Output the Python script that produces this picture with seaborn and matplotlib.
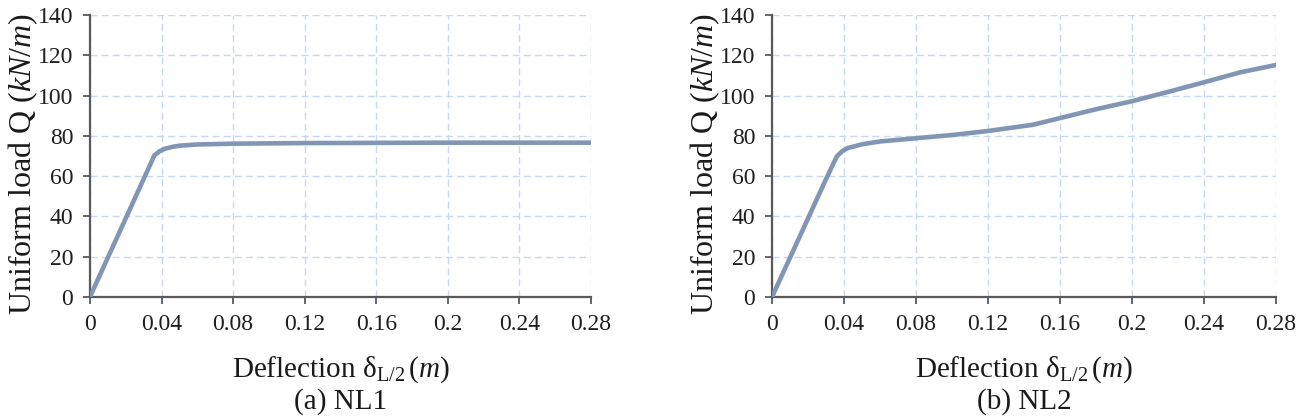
import numpy as np
import matplotlib
matplotlib.use("Agg")
import matplotlib.pyplot as plt
from matplotlib.ticker import FuncFormatter, MultipleLocator
import pandas as pd
import seaborn as sns

sns.set_theme(style="white")
plt.rcParams['font.family'] = ['Liberation Serif', 'DejaVu Serif']
plt.rcParams['mathtext.fontset'] = 'custom'
plt.rcParams['mathtext.rm'] = 'Liberation Serif'
plt.rcParams['mathtext.it'] = 'Liberation Serif:italic'

# load-deflection curves
nl1_defl = [0, 0.010, 0.020, 0.030, 0.036, 0.039, 0.042, 0.046, 0.050, 0.060, 0.080, 0.120, 0.200, 0.280]
nl1_load = [0, 19.5, 39.0, 58.5, 70.3, 72.4, 73.6, 74.5, 75.1, 75.7, 76.1, 76.4, 76.6, 76.6]

nl2_defl = [0, 0.010, 0.020, 0.030, 0.036, 0.039, 0.042, 0.050, 0.060, 0.080, 0.100, 0.120,
            0.145, 0.160, 0.180, 0.200, 0.220, 0.240, 0.260, 0.280]
nl2_load = [0, 19.5, 39.0, 58.5, 69.8, 72.4, 73.9, 75.8, 77.2, 78.8, 80.4, 82.4,
            85.5, 88.8, 93.2, 97.2, 101.8, 106.6, 111.5, 115.2]

panels = ["(a) NL1", "(b) NL2"]

line_color = "#8096b4"
grid_color = "#c6d9f0"
axis_color = "#595959"

df1 = pd.DataFrame({"defl": nl1_defl, "load": nl1_load})
df2 = pd.DataFrame({"defl": nl2_defl, "load": nl2_load})

fig = plt.figure(figsize=(12.96, 4.17), dpi=100)
ax1 = fig.add_axes([0.0694, 0.288, 0.3866, 0.676])
ax2 = fig.add_axes([0.5957, 0.288, 0.3889, 0.676])

for ax, df, title in zip([ax1, ax2], [df1, df2], panels):
    sns.lineplot(data=df, x="defl", y="load", ax=ax, color=line_color,
                 linewidth=3.3, sort=False, zorder=3)
    ax.lines[-1].set_solid_joinstyle("round")
    ax.set_xlim(0, 0.28)
    ax.set_ylim(0, 140)
    ax.xaxis.set_major_locator(MultipleLocator(0.04))
    ax.yaxis.set_major_locator(MultipleLocator(20))
    ax.xaxis.set_major_formatter(FuncFormatter(lambda v, p: "{:g}".format(round(v, 2))))
    ax.grid(True, color=grid_color, linestyle=(0, (5, 3)), linewidth=1.0)
    for s in ["top", "right"]:
        ax.spines[s].set_visible(False)
    for s in ["left", "bottom"]:
        ax.spines[s].set_color(axis_color)
        ax.spines[s].set_linewidth(1.6)
    ax.tick_params(axis="both", direction="out", length=5, width=1.3,
                   color=axis_color, labelsize=17, labelcolor="#1f1f1f",
                   bottom=True, left=True, pad=7)
    ax.set_xlabel(r"Deflection $\mathrm{\delta}_{\mathrm{L/2}}\,(\mathit{m})$", fontsize=21,
                  labelpad=14, color="#1a1a1a")
    ax.set_ylabel(r"Uniform load Q ($\mathit{kN/m}$)", fontsize=23, labelpad=1,
                  color="#1a1a1a")
    ax.yaxis.set_label_coords(-0.1, 0.47)
    pos = ax.get_position()
    fig.text((pos.x0 + pos.x1) / 2, 0.038, title, ha="center", va="center",
             fontsize=21, color="#1a1a1a")

fig.savefig("out.png", dpi=100)
